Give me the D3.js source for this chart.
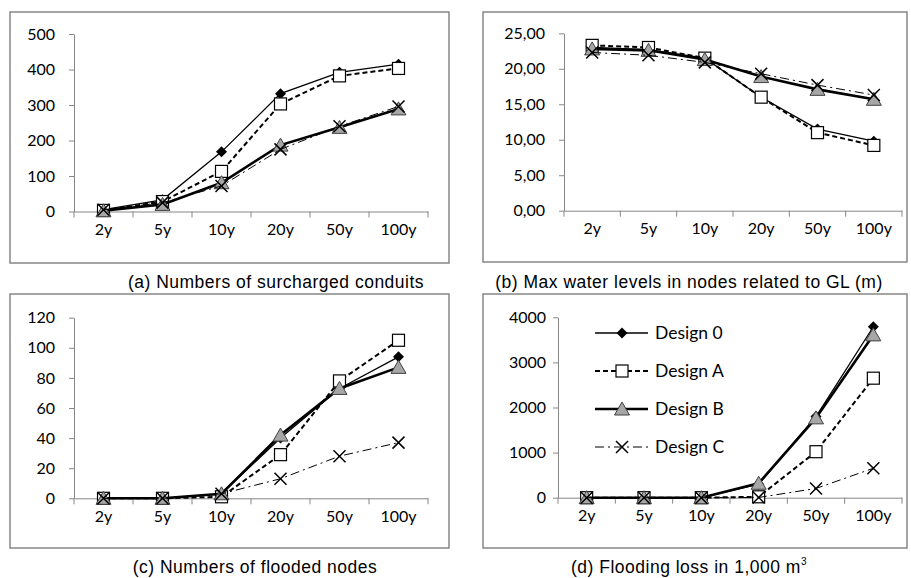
<!DOCTYPE html>
<html>
<head>
<meta charset="utf-8">
<script src="https://cdn.jsdelivr.net/npm/d3@7"></script>
<style>
  body { margin: 0; background: #fff; }
  svg { display: block; }
</style>
</head>
<body>
<div id="chart"></div>
<script>
// return periods on every x axis
const periods = ['2y', '5y', '10y', '20y', '50y', '100y']
const designs = ['Design 0', 'Design A', 'Design B', 'Design C']

// values per design, in the order of `designs`
const surcharged = [
  [5, 33, 168, 332, 392, 415],
  [3, 28, 113, 303, 382, 403],
  [2, 20, 81, 187, 237, 289],
  [5, 25, 72, 175, 240, 296]
]
const waterLevels = [
  [23.0, 22.7, 21.5, 16.0, 11.5, 9.8],
  [23.3, 23.0, 21.5, 16.0, 11.0, 9.2],
  [22.8, 22.6, 21.3, 18.9, 17.1, 15.7],
  [22.3, 21.9, 20.9, 19.3, 17.7, 16.3]
]
const floodedNodes = [
  [0, 0, 3, 40, 73, 94],
  [0, 0, 1, 29, 78, 105],
  [0, 0, 3, 42, 73, 87],
  [0, 0, 3, 13, 28, 37]
]
const floodingLoss = [
  [0, 0, 0, 300, 1800, 3790],
  [0, 0, 0, 20, 1020, 2650],
  [0, 0, 0, 320, 1770, 3610],
  [0, 0, 0, 5, 205, 652]
]

const ticksA = [0, 100, 200, 300, 400, 500]
const ticksB = [0, 5, 10, 15, 20, 25]
const ticksC = [0, 20, 40, 60, 80, 100, 120]
const ticksD = [0, 1000, 2000, 3000, 4000]

const W = 911
const H = 578
const grey = '#878787'

const svg = d3.select('#chart').append('svg')
  .attr('width', W)
  .attr('height', H)

// line + marker style for each design
const styles = [
  { width: 1.3, dash: null, marker: 'diamond' },
  { width: 2, dash: '5,3', marker: 'square' },
  { width: 2.6, dash: null, marker: 'triangle' },
  { width: 1, dash: '9,4,2,4', marker: 'cross' }
]

const drawMarker = (g, type, x, y) => {
  if (type === 'diamond') {
    g.append('path')
      .attr('d', `M${x},${y - 5.5}L${x + 5.5},${y}L${x},${y + 5.5}L${x - 5.5},${y}Z`)
      .attr('fill', '#000')
  } else if (type === 'square') {
    g.append('rect')
      .attr('x', x - 6).attr('y', y - 6)
      .attr('width', 12).attr('height', 12)
      .attr('fill', '#fff').attr('stroke', '#000').attr('stroke-width', 1.2)
  } else if (type === 'triangle') {
    g.append('path')
      .attr('d', `M${x},${y - 7}L${x + 7.5},${y + 6}L${x - 7.5},${y + 6}Z`)
      .attr('fill', '#a6a6a6').attr('stroke', '#404040').attr('stroke-width', 1)
  } else {
    g.append('path')
      .attr('d', `M${x - 6},${y - 6}L${x + 6},${y + 6}M${x - 6},${y + 6}L${x + 6},${y - 6}`)
      .attr('stroke', '#000').attr('stroke-width', 1.5)
  }
}

const panels = [
  {
    data: surcharged, ticks: ticksA, fmt: d3.format('d'), pad: 14,
    frame: [10, 12, 439, 251], x: [74, 428], y: [211.5, 34],
    caption: '(a) Numbers of surcharged conduits', cx: 276, cy: 288
  },
  {
    data: waterLevels, ticks: ticksB, fmt: d => d.toFixed(2).replace('.', ','), pad: 14,
    frame: [483, 12, 424, 250], x: [564, 902], y: [210.7, 33.3],
    caption: '(b) Max water levels in nodes related to GL (m)', cx: 689, cy: 288
  },
  {
    data: floodedNodes, ticks: ticksC, fmt: d3.format('d'), pad: 14,
    frame: [10, 294, 439, 254], x: [74, 428], y: [498.3, 317.7],
    caption: '(c) Numbers of flooded nodes', cx: 255, cy: 573
  },
  {
    data: floodingLoss, ticks: ticksD, fmt: d3.format('d'), pad: 7,
    frame: [483, 294, 424, 254], x: [558, 902], y: [497.7, 317.3],
    caption: '(d) Flooding loss in 1,000 m', sup: '3', cx: 689, cy: 573,
    legend: true
  }
]

panels.forEach(p => {
  const g = svg.append('g')
  const [fx, fy, fw, fh] = p.frame

  g.append('rect')
    .attr('x', fx).attr('y', fy)
    .attr('width', fw).attr('height', fh)
    .attr('fill', 'none').attr('stroke', grey).attr('stroke-width', 1.5)

  const x = d3.scaleBand().domain(periods).range(p.x)
  const y = d3.scaleLinear()
    .domain(d3.extent(p.ticks))
    .range(p.y)

  // y axis
  const ya = g.append('g')
    .attr('transform', `translate(${p.x[0]},0)`)
    .call(d3.axisLeft(y).tickValues(p.ticks).tickFormat(p.fmt)
      .tickSize(5).tickSizeOuter(0).tickPadding(p.pad))
  ya.select('.domain').attr('stroke', grey)
  ya.selectAll('.tick line').attr('stroke', grey)
  ya.selectAll('text')
    .attr('fill', '#000')
    .style('font-family', 'Lato, sans-serif')
    .style('font-size', '16px')

  // x axis: labels in band centres, ticks on band edges
  const xa = g.append('g')
    .attr('transform', `translate(0,${p.y[0]})`)
    .call(d3.axisBottom(x).tickSize(0).tickPadding(12))
  xa.select('.domain').attr('stroke', grey)
  xa.selectAll('text')
    .attr('fill', '#000')
    .style('font-family', 'Lato, sans-serif')
    .style('font-size', '16px')
  xa.selectAll('.edge')
    .data(periods.concat('end'))
    .join('line')
    .attr('class', 'edge')
    .attr('x1', (d, i) => p.x[0] + i * x.step())
    .attr('x2', (d, i) => p.x[0] + i * x.step())
    .attr('y1', 0).attr('y2', 6)
    .attr('stroke', grey)

  const line = d3.line()
    .x((d, i) => x(periods[i]) + x.bandwidth() / 2)
    .y(d => y(d))

  p.data.forEach((vals, k) => {
    const s = styles[k]
    const sg = g.append('g')
    sg.append('path')
      .attr('d', line(vals))
      .attr('fill', 'none')
      .attr('stroke', '#000')
      .attr('stroke-width', s.width)
      .attr('stroke-dasharray', s.dash)
    vals.forEach((v, i) => {
      drawMarker(sg, s.marker, x(periods[i]) + x.bandwidth() / 2, y(v))
    })
  })

  const cap = g.append('text')
    .attr('x', p.cx).attr('y', p.cy)
    .attr('text-anchor', 'middle')
    .style('font-family', '"Liberation Sans", Arial, sans-serif')
    .style('font-size', '17.5px')
    .style('letter-spacing', '0.5px')
    .text(p.caption)
  if (p.sup) {
    cap.append('tspan')
      .attr('dy', -8)
      .style('font-size', '10px')
      .text(p.sup)
  }

  if (p.legend) {
    const lg = g.append('g')
    designs.forEach((name, k) => {
      const s = styles[k]
      const ly = 333 + k * 38
      lg.append('line')
        .attr('x1', 595).attr('x2', 648)
        .attr('y1', ly).attr('y2', ly)
        .attr('stroke', '#000')
        .attr('stroke-width', s.width)
        .attr('stroke-dasharray', s.dash)
      drawMarker(lg, s.marker, 622, ly)
      lg.append('text')
        .attr('x', 655).attr('y', ly)
        .attr('dy', '0.35em')
        .style('font-family', 'Lato, sans-serif')
        .style('font-size', '17.5px')
        .text(name)
    })
  }
})
</script>
</body>
</html>
